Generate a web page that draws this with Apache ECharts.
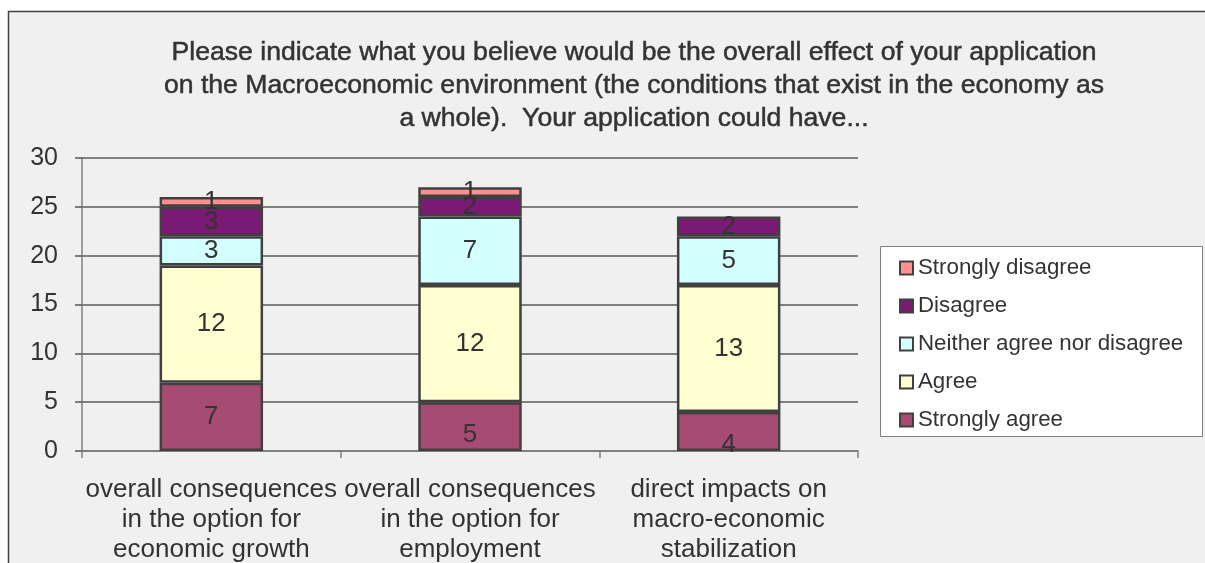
<!DOCTYPE html>
<html>
<head>
<meta charset="utf-8">
<style>
  html, body { margin: 0; padding: 0; background: #ffffff; }
  #chart { width: 1205px; height: 563px; }
</style>
<script src="https://cdn.jsdelivr.net/npm/echarts@6/dist/echarts.min.js"></script>
</head>
<body>
<div id="chart"></div>
<script>
// Survey answers per application aspect (counts of respondents)
const categories = [
  'overall consequences\nin the option for\neconomic growth',
  'overall consequences\nin the option for\nemployment',
  'direct impacts on\nmacro-economic\nstabilization'
];
const stronglyAgree = [7, 5, 4];
const agree = [12, 12, 13];
const neither = [3, 7, 5];
const disagree = [3, 2, 2];
const stronglyDisagree = [1, 1, 0];
const yTicks = [0, 5, 10, 15, 20, 25, 30];

const chart = echarts.init(document.getElementById('chart'), null, { renderer: 'canvas' });
const font = '"Liberation Sans", Arial, sans-serif';
const txt = '#333333';

// small downward nudges for labels sitting low in short bottom segments
const bottomLabelNudge = [0, 8, 13];

function seriesOf(name, values, color, nudge) {
  return {
    name: name,
    type: 'bar',
    stack: 'total',
    barWidth: '40%',
    data: values.map((v, i) => {
      if (v === 0) return null;
      if (nudge && nudge[i]) return { value: v, label: { offset: [0, nudge[i]] } };
      return v;
    }),
    itemStyle: { color: color, borderColor: '#404040', borderWidth: 2.5 },
    label: {
      show: true,
      position: 'inside',
      color: txt,
      fontFamily: font,
      fontSize: 26
    },
    emphasis: { disabled: true }
  };
}

chart.setOption({
  animation: false,
  backgroundColor: '#ffffff',
  graphic: [{
    type: 'rect',
    z: -10,
    shape: { x: 8.5, y: 11.5, width: 1210, height: 570 },
    style: { fill: '#f0f0f0', stroke: '#404040', lineWidth: 1.5 }
  }, {
    type: 'rect',
    z: -5,
    shape: { x: 880.5, y: 246.5, width: 322, height: 190 },
    style: { fill: '#ffffff', stroke: '#808080', lineWidth: 1 }
  }],
  title: {
    text: 'Please indicate what you believe would be the overall effect of your application\non the Macroeconomic environment (the conditions that exist in the economy as\na whole).  Your application could have...',
    left: 629,
    textAlign: 'center',
    top: 31,
    textStyle: {
      fontFamily: font,
      fontSize: 26.6,
      fontWeight: 'normal',
      color: txt,
      lineHeight: 33,
      textBorderColor: txt,
      textBorderWidth: 0.5
    }
  },
  legend: {
    orient: 'vertical',
    left: 899,
    top: 257,
    padding: 0,
    itemGap: 16,
    itemWidth: 13,
    itemHeight: 13,
    icon: 'rect',
    itemStyle: { borderColor: '#404040', borderWidth: 2 },
    textStyle: { fontFamily: font, fontSize: 22.3, lineHeight: 22, color: txt, padding: [0, 0, 0, 0] },
    data: ['Strongly disagree', 'Disagree', 'Neither agree nor disagree', 'Agree', 'Strongly agree']
  },
  grid: { left: 82, right: 347, top: 158, bottom: 112, containLabel: false, outerBoundsMode: 'none' },
  xAxis: {
    type: 'category',
    data: categories,
    axisLine: { show: true, lineStyle: { color: '#808080', width: 1.5 } },
    axisTick: { show: true, alignWithLabel: false, length: 7, lineStyle: { color: '#808080', width: 1.5 } },
    axisLabel: {
      interval: 0,
      fontFamily: font,
      fontSize: 26,
      color: txt,
      lineHeight: 30,
      margin: 24
    }
  },
  yAxis: {
    type: 'value',
    min: yTicks[0],
    max: yTicks[yTicks.length - 1],
    interval: 5,
    axisLine: { show: true, lineStyle: { color: '#808080', width: 1.5 } },
    axisTick: { show: true, length: 7, lineStyle: { color: '#555555', width: 1.5 } },
    splitLine: { show: true, lineStyle: { color: '#5a5a5a', width: 1.5 } },
    axisLabel: { fontFamily: font, fontSize: 25, color: txt, margin: 24 }
  },
  series: [
    seriesOf('Strongly agree', stronglyAgree, '#a64b73', bottomLabelNudge),
    seriesOf('Agree', agree, '#ffffd2'),
    seriesOf('Neither agree nor disagree', neither, '#d4ffff'),
    seriesOf('Disagree', disagree, '#7b1a74'),
    seriesOf('Strongly disagree', stronglyDisagree, '#ff9090')
  ]
});
</script>
</body>
</html>
